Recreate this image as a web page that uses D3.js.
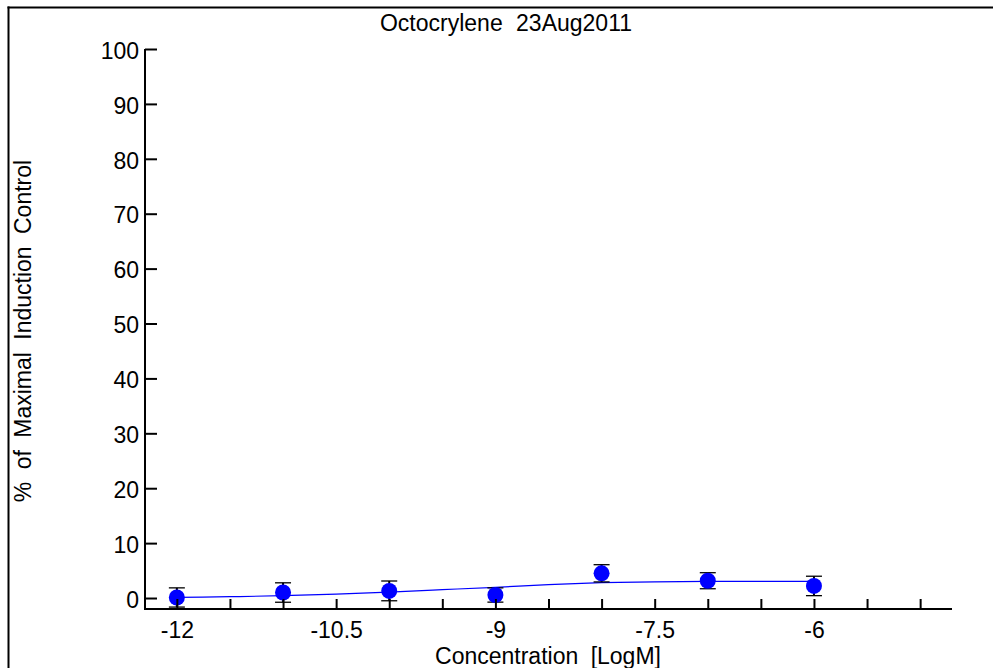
<!DOCTYPE html>
<html>
<head>
<meta charset="utf-8">
<script src="https://cdn.jsdelivr.net/npm/d3@7"></script>
<style>
  html, body { margin: 0; padding: 0; background: #fff; }
  svg text { font-family: "Liberation Sans", Arial, sans-serif; fill: #000; }
</style>
</head>
<body>
<svg id="chart" width="993" height="668"></svg>
<script>
// ---- data ----
const title = "Octocrylene 23Aug2011";
const xLabel = "Concentration [LogM]";
const yLabel = "% of Maximal Induction Control";

const concentrations = [-12, -11, -10, -9, -8, -7, -6];
const responses      = [0.1, 1.0, 1.3, 0.55, 4.5, 3.15, 2.2];
const errors         = [1.75, 1.77, 1.8, 1.3, 1.57, 1.46, 1.77];

// fitted curve
const curveX = [-12, -11.5, -11, -10.5, -10, -9.5, -9, -8.5, -8, -7.5, -7, -6.5, -6];
const curveY = [0.13, 0.24, 0.42, 0.70, 1.09, 1.52, 1.95, 2.45, 2.79, 2.95, 3.03, 3.05, 3.05];

const xTicks = [-12, -11.5, -11, -10.5, -10, -9.5, -9, -8.5, -8, -7.5, -7, -6.5, -6, -5.5, -5];
const xTickLabels = [-12, -10.5, -9, -7.5, -6];
const yTicks = [0, 10, 20, 30, 40, 50, 60, 70, 80, 90, 100];

// ---- drawing ----
const svg = d3.select("#chart");
const fontSize = 23;

const x = d3.scaleLinear().domain([-12.3, -4.7]).range([145, 952]);
const y = d3.scaleLinear().domain([-2, 100]).range([609, 49]);

// frame (top + left)
svg.append("line").attr("x1", 7.5).attr("x2", 993).attr("y1", 7.5).attr("y2", 7.5)
  .attr("stroke", "#000").attr("stroke-width", 2.2);
svg.append("line").attr("x1", 8.5).attr("x2", 8.5).attr("y1", 6.5).attr("y2", 668)
  .attr("stroke", "#000").attr("stroke-width", 2);

// title
svg.append("text").attr("x", 506).attr("y", 30.5).attr("text-anchor", "middle")
  .style("font-size", fontSize + "px").style("word-spacing", "7px").text(title);

// curve
const line = d3.line().x(d => x(d[0])).y(d => y(d[1])).curve(d3.curveMonotoneX);
svg.append("path").datum(curveX.map((v, i) => [v, curveY[i]]))
  .attr("d", line).attr("fill", "none").attr("stroke", "#0000ff").attr("stroke-width", 1.2);

const pts = concentrations.map((c, i) => ({ c, r: responses[i], e: errors[i] }));

// error bars
const eb = svg.append("g").attr("stroke", "#000");
eb.selectAll("line.v").data(pts).join("line").attr("class", "v")
  .attr("x1", d => x(d.c)).attr("x2", d => x(d.c))
  .attr("y1", d => y(d.r + d.e)).attr("y2", d => y(d.r - d.e)).attr("stroke-width", 2);
eb.selectAll("line.t").data(pts).join("line").attr("class", "t")
  .attr("x1", d => x(d.c) - 8).attr("x2", d => x(d.c) + 8)
  .attr("y1", d => y(d.r + d.e)).attr("y2", d => y(d.r + d.e)).attr("stroke-width", 1.3);
eb.selectAll("line.b").data(pts).join("line").attr("class", "b")
  .attr("x1", d => x(d.c) - 8).attr("x2", d => x(d.c) + 8)
  .attr("y1", d => y(d.r - d.e)).attr("y2", d => y(d.r - d.e)).attr("stroke-width", 1.3);

// points
svg.append("g").selectAll("circle").data(pts).join("circle")
  .attr("cx", d => x(d.c)).attr("cy", d => y(d.r)).attr("r", 8).attr("fill", "#0000ff");

// axes
const xAxis = d3.axisBottom(x).tickValues(xTicks)
  .tickFormat(d => xTickLabels.includes(d) ? String(d) : "")
  .tickSizeInner(-10).tickSizeOuter(0).tickPadding(13);
const gx = svg.append("g").attr("transform", "translate(0,609)").call(xAxis);

const yAxis = d3.axisLeft(y).tickValues(yTicks).tickFormat(d3.format("d"))
  .tickSizeInner(-12).tickSizeOuter(0).tickPadding(6);
const gy = svg.append("g").attr("transform", "translate(145,0)").call(yAxis);

[gx, gy].forEach(g => {
  g.select(".domain").attr("stroke", "#000").attr("stroke-width", 2);
  g.selectAll(".tick line").attr("stroke", "#000").attr("stroke-width", 2);
  g.selectAll(".tick text").style("font-size", fontSize + "px")
    .style("font-family", "'Liberation Sans', Arial, sans-serif").attr("fill", "#000");
});
gy.selectAll(".tick text").attr("dy", "0.4em");
gy.select(".domain").attr("d", `M0,${y(100)}V610`);
gx.select(".domain").attr("d", `M${x.range()[0] - 1},0H${x.range()[1]}`);

// axis titles
svg.append("text").attr("x", 548).attr("y", 664).attr("text-anchor", "middle")
  .style("font-size", fontSize + "px").style("word-spacing", "6px").text(xLabel);
svg.append("text").attr("transform", "translate(31,331) rotate(-90)")
  .attr("text-anchor", "middle").style("font-size", fontSize + "px")
  .style("word-spacing", "6px").text(yLabel);
</script>
</body>
</html>
